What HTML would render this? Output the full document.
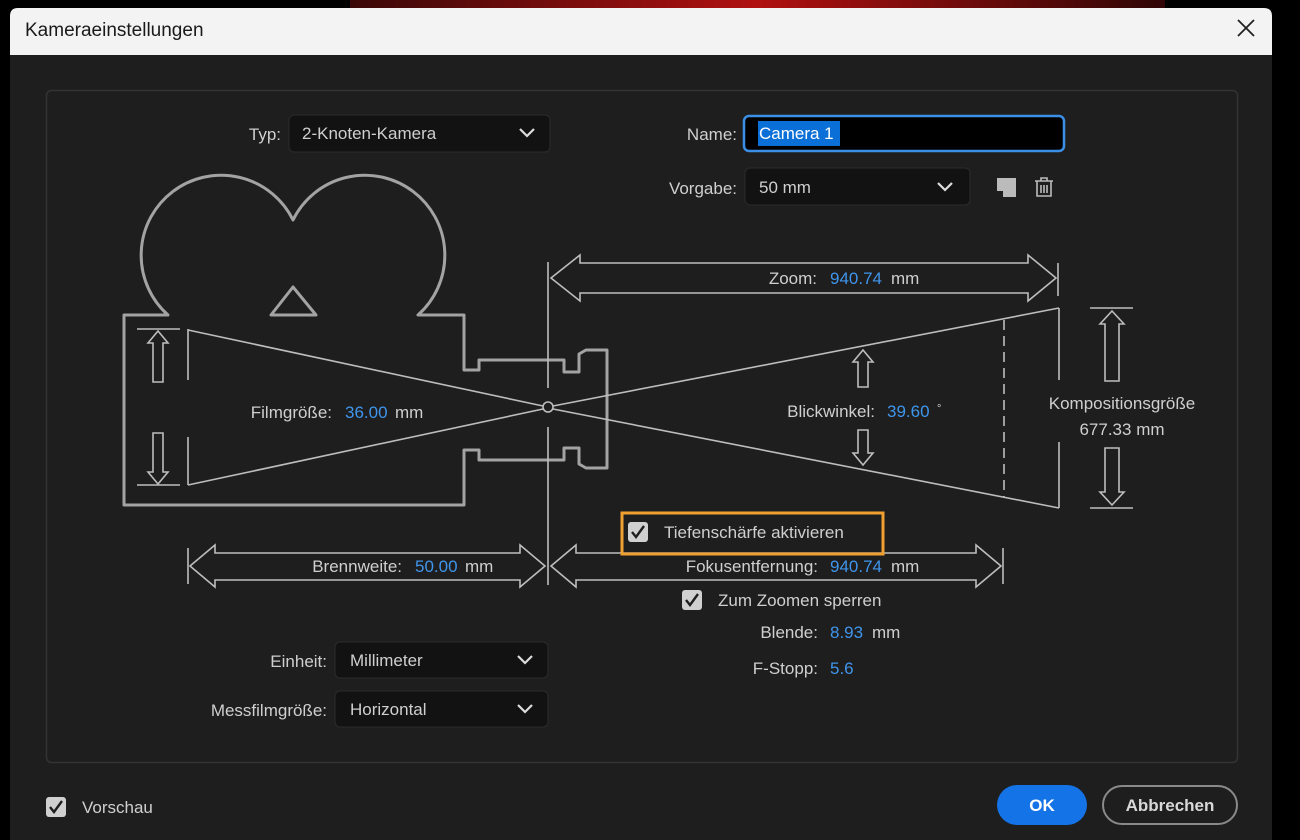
<!DOCTYPE html>
<html><head><meta charset="utf-8"><style>
html,body{margin:0;padding:0;background:#000;width:1300px;height:840px;overflow:hidden}
svg{display:block}
text{font-family:"Liberation Sans",sans-serif;font-size:17px;fill:#cfcfcf}
.b{fill:#3f95ec}
</style></head><body>
<svg width="1300" height="840" viewBox="0 0 1300 840">
<defs><linearGradient id="rg" x1="0" x2="1"><stop offset="0" stop-color="#3a0808"/><stop offset="0.5" stop-color="#b01010"/><stop offset="1" stop-color="#300606"/></linearGradient></defs>
<rect x="0" y="0" width="1300" height="840" fill="#000"/>
<rect x="350" y="0" width="815" height="10" fill="url(#rg)"/>
<!-- dialog -->
<rect x="10" y="8" width="1262" height="840" rx="8" fill="#1e1e1e"/>
<path d="M10 55 V16 Q10 8 18 8 H1264 Q1272 8 1272 16 V55 Z" fill="#f3f3f3"/>
<text x="25" y="36" style="font-size:19px;fill:#1a1a1a">Kameraeinstellungen</text>
<path d="M1238 20 L1254 36 M1254 20 L1238 36" stroke="#222" stroke-width="1.8"/>
<rect x="46.5" y="90.5" width="1191" height="672" rx="5" fill="none" stroke="#333" stroke-width="1.5"/>

<!-- top controls -->
<text x="281" y="140" text-anchor="end">Typ:</text>
<rect x="289" y="115" width="261" height="37" rx="5" fill="#121212" stroke="#2c2c2c"/>
<text x="302" y="139">2-Knoten-Kamera</text>
<path d="M520 129 L527 136 L534 129" fill="none" stroke="#ddd" stroke-width="2.2"/>

<text x="737" y="140" text-anchor="end">Name:</text>
<rect x="744" y="116" width="320" height="35" rx="5" fill="#000" stroke="#3b8fe6" stroke-width="2.5"/>
<rect x="758" y="121" width="82" height="25" fill="#0a6fd6"/>
<text x="759" y="139" style="fill:#fff">Camera 1</text>

<text x="737" y="194" text-anchor="end">Vorgabe:</text>
<rect x="745" y="168" width="225" height="37" rx="5" fill="#121212" stroke="#2c2c2c"/>
<text x="759" y="193">50 mm</text>
<path d="M938 183 L945 190 L952 183" fill="none" stroke="#ddd" stroke-width="2.2"/>
<path d="M997 178 H1016 V197 H1003 V191 H997 Z" fill="#bbb"/>
<g fill="none" stroke="#bbb" stroke-width="1.6"><path d="M1035 181 H1053 M1041 181 V178 H1047 V181 M1037 181 V196 H1051 V181 M1041 185 V193 M1044 185 V193 M1047 185 V193"/></g>

<!-- camera outline -->
<path d="M168 315 A80 80 0 1 1 293 220 A80 80 0 1 1 418 315 H464 V370 H479 V360 H564 V372 H579 V354 L586 350 H607 V468 H586 L579 464 V448 H564 V460 H479 V450 H464 V505 H124 V315 Z" fill="none" stroke="#a3a3a3" stroke-width="3" stroke-linejoin="round"/>
<path d="M293 287 L271 315 H316 Z" fill="none" stroke="#a3a3a3" stroke-width="3" stroke-linejoin="round"/>

<g stroke="#bdbdbd" stroke-width="1.6" fill="none">
<!-- film -->
<path d="M137 329 H180 M137 485 H180 M188 329 V380 M188 437 V485"/>
<path d="M188 330 L543 406 M188 485 L543 409"/>
<circle cx="548" cy="407" r="5"/>
<path d="M553 406 L1059 308 M553 409 L1059 508"/>
<path d="M1059 308 V380 M1059 442 V508"/>
<path d="M1004 320 V497" stroke-dasharray="10 6"/>
<path d="M548 262 V388 M548 427 V585"/>
<!-- film arrows -->
<path d="M158 331 L148 343 H153 V382 H163 V343 H168 Z"/>
<path d="M158 484 L148 472 H153 V433 H163 V472 H168 Z"/>
<!-- blickwinkel arrows -->
<path d="M863 350 L853 362 H858 V387 H868 V362 H873 Z"/>
<path d="M863 465 L853 453 H858 V430 H868 V453 H873 Z"/>
<!-- komposition -->
<path d="M1090 308 H1133 M1090 508 H1133"/>
<path d="M1112 311 L1100 324 H1105 V381 H1119 V324 H1124 Z"/>
<path d="M1112 505 L1100 492 H1105 V448 H1119 V492 H1124 Z"/>
<!-- zoom arrow -->
<path d="M551 278 L580 255 V263 H1028 V255 L1056 278 L1028 301 V293 H580 V301 Z"/>
<path d="M1058 263 V296"/>
<!-- brennweite -->
<path d="M190 566 L215 545 V553 H520 V545 L545 566 L520 587 V580 H215 V587 Z"/>
<path d="M188 548 V584"/>
<!-- fokus -->
<path d="M551 566 L576 545 V553 H976 V545 L1001 566 L976 587 V580 H576 V587 Z"/>
<path d="M1003 548 V584"/>
</g>

<!-- labels -->
<text x="332" y="418" text-anchor="end">Filmgröße:</text>
<text x="345" y="418" class="b">36.00</text><text x="395" y="418">mm</text>
<text x="817" y="284" text-anchor="end">Zoom:</text>
<text x="830" y="284" class="b">940.74</text><text x="891" y="284">mm</text>
<text x="875" y="417" text-anchor="end">Blickwinkel:</text>
<text x="887" y="417" class="b">39.60</text><text x="937" y="412" style="font-size:11px">°</text>
<text x="1122" y="409" text-anchor="middle">Kompositionsgröße</text>
<text x="1122" y="435" text-anchor="middle">677.33 mm</text>
<text x="402" y="572" text-anchor="end">Brennweite:</text>
<text x="415" y="572" class="b">50.00</text><text x="465" y="572">mm</text>
<text x="818" y="572" text-anchor="end">Fokusentfernung:</text>
<text x="830" y="572" class="b">940.74</text><text x="891" y="572">mm</text>
<text x="818" y="638" text-anchor="end">Blende:</text>
<text x="830" y="638" class="b">8.93</text><text x="872" y="638">mm</text>
<text x="818" y="674" text-anchor="end">F-Stopp:</text>
<text x="830" y="674" class="b">5.6</text>

<!-- checkboxes -->
<rect x="622" y="513" width="261" height="41" fill="none" stroke="#f0a030" stroke-width="3"/>
<rect x="628" y="522" width="20" height="20" rx="3" fill="#d0d0d0"/>
<path d="M632 532 L636 537 L644 526" fill="none" stroke="#1e1e1e" stroke-width="2.4"/>
<text x="664" y="538">Tiefenschärfe aktivieren</text>
<rect x="682" y="590" width="20" height="20" rx="3" fill="#d0d0d0"/>
<path d="M686 600 L690 605 L698 594" fill="none" stroke="#1e1e1e" stroke-width="2.4"/>
<text x="718" y="606">Zum Zoomen sperren</text>

<!-- bottom dropdowns -->
<text x="327" y="667" text-anchor="end">Einheit:</text>
<rect x="335" y="642" width="213" height="36" rx="5" fill="#121212" stroke="#2c2c2c"/>
<text x="350" y="666">Millimeter</text>
<path d="M518 656 L525 663 L532 656" fill="none" stroke="#ddd" stroke-width="2.2"/>
<text x="327" y="716" text-anchor="end">Messfilmgröße:</text>
<rect x="335" y="691" width="213" height="36" rx="5" fill="#121212" stroke="#2c2c2c"/>
<text x="350" y="715">Horizontal</text>
<path d="M518 705 L525 712 L532 705" fill="none" stroke="#ddd" stroke-width="2.2"/>

<!-- footer -->
<rect x="46" y="797" width="20" height="20" rx="3" fill="#d0d0d0"/>
<path d="M50 807 L54 812 L62 801" fill="none" stroke="#1e1e1e" stroke-width="2.4"/>
<text x="82" y="813">Vorschau</text>
<rect x="997" y="785" width="90" height="40" rx="20" fill="#1473e6"/>
<text x="1042" y="811" text-anchor="middle" style="fill:#fff;font-weight:bold">OK</text>
<rect x="1103" y="786" width="134" height="38" rx="19" fill="none" stroke="#8a8a8a" stroke-width="2"/>
<text x="1170" y="811" text-anchor="middle" style="fill:#d8d8d8;font-weight:bold">Abbrechen</text>
</svg>
</body></html>
